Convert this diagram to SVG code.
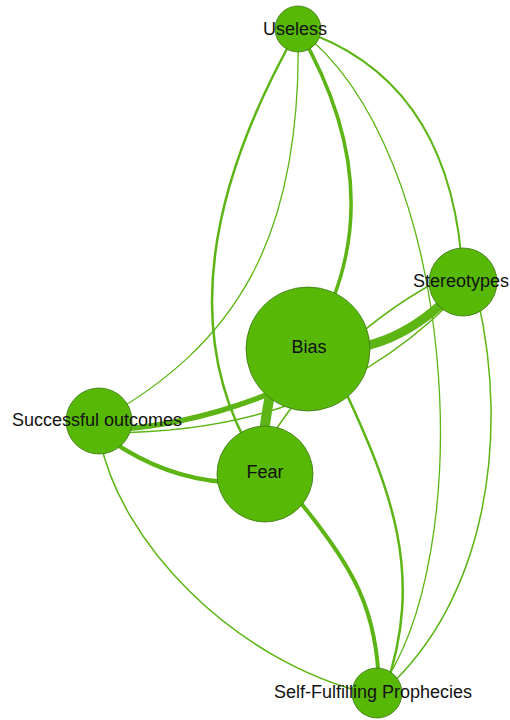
<svg xmlns="http://www.w3.org/2000/svg" width="510" height="720" viewBox="0 0 510 720">
<style>
.e{fill:none;stroke:#5cb514;stroke-linecap:round}
.n{fill:#57b805;stroke:#3c7514;stroke-width:0.8}
.t{font-family:"Liberation Sans",Arial,sans-serif;font-size:18px;fill:#111;text-anchor:middle}
</style>
<rect width="510" height="720" fill="#fff"/>
<g id="edges">
<path id="e-u-f" class="e" stroke-width="2.5" d="M298,29 Q144.5,298.5 265,474"/>
<path id="e-u-so" class="e" stroke-width="1.3" d="M298,29 C303,240 235,345 99,421"/>
<path id="e-u-b" class="e" stroke-width="3.5" d="M298,29 Q399,201 308,349"/>
<path id="e-u-sfp" class="e" stroke-width="1.3" d="M298,29 C460,150 480,560 377,693"/>
<path id="e-u-st" class="e" stroke-width="2" d="M298,29 Q455,80 463,282"/>
<path id="e-b-st" class="e" stroke-width="9" d="M308,349 Q395,360 463,282"/>
<path id="e-f-st" class="e" stroke-width="1.5" d="M272,435 C305,386 350,330 432,284"/>
<path id="e-so-st" class="e" stroke-width="1.5" d="M110,433 C220,432 340,410 448,305"/>
<path id="e-so-b" class="e" stroke-width="5.5" d="M110,430 Q200,425 290,385"/>
<path id="e-so-f" class="e" stroke-width="4.5" d="M110,440 Q165,478 225,482"/>
<path id="e-so-sfp" class="e" stroke-width="1.5" d="M100,440 C120,540 230,660 370,694"/>
<path id="e-f-sfp" class="e" stroke-width="4" d="M290,490 C356,568 378,612 379,690"/>
<path id="e-b-sfp" class="e" stroke-width="2.5" d="M340,380 C392,490 425,575 385,690"/>
<path id="e-st-sfp" class="e" stroke-width="1.5" d="M478,300 C510,440 485,600 385,690"/>
<path id="e-b-f" class="e" stroke-width="10" d="M275,370 Q266,410 262,450"/>
</g>
<g id="n-useless"><circle class="n" cx="298" cy="29" r="23"/><text class="t" x="295" y="35">Useless</text></g>
<g id="n-stereotypes"><circle class="n" cx="463" cy="282" r="34"/><text class="t" x="461" y="287">Stereotypes</text></g>
<g id="n-bias"><circle class="n" cx="308" cy="349" r="62"/><text class="t" x="309" y="353">Bias</text></g>
<g id="n-successful"><circle class="n" cx="99" cy="421" r="33"/><text class="t" x="97" y="426">Successful outcomes</text></g>
<g id="n-fear"><circle class="n" cx="265" cy="474" r="48"/><text class="t" x="265" y="478">Fear</text></g>
<g id="n-sfp"><circle class="n" cx="377" cy="693" r="25"/><text class="t" x="373" y="698">Self-Fulfilling Prophecies</text></g>
</svg>
